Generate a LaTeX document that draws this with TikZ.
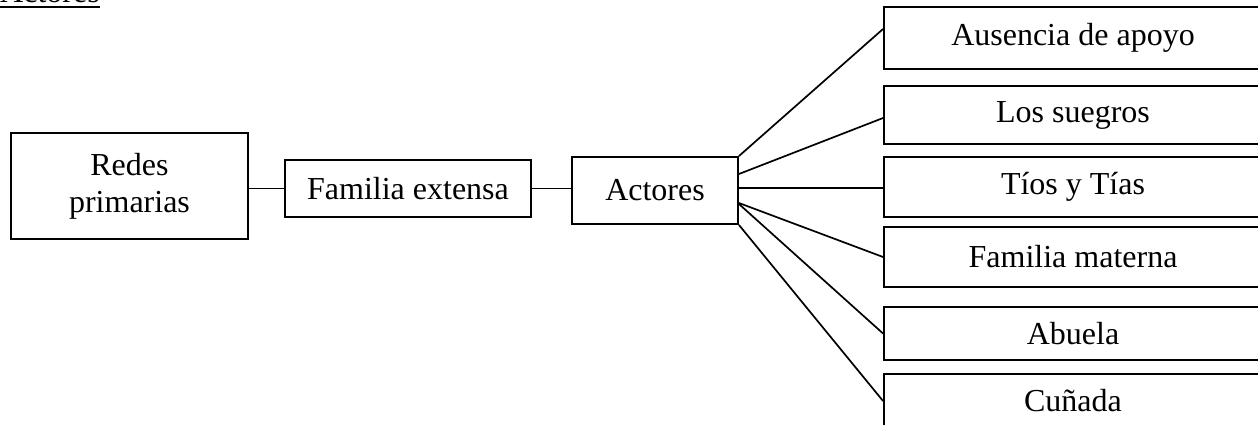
\documentclass[tikz,border=0pt]{standalone}
\usepackage{fontspec}
\setmainfont{Liberation Serif}
\begin{document}
\begin{tikzpicture}[x=1pt,y=-1pt,
  box/.style={draw, line width=1.9pt, rectangle, inner sep=0pt, align=center,
    font=\fontsize{32pt}{37pt}\selectfont},
  link/.style={line width=1.7pt},
  rbox/.style={box, minimum width=378pt}]
  \useasboundingbox (0,0) rectangle (1258,425);
  \clip (0,0) rectangle (1258,425);

  % heading
  \node[anchor=base west, inner sep=0pt, font=\fontsize{32pt}{37pt}\selectfont]
    (hdr) at (0,3) {Actores};
  \draw[line width=2.2pt] ([yshift=-4pt]hdr.base west) -- ([yshift=-4pt]hdr.base east);

  % main chain
  \node[box, minimum width=237pt, minimum height=106pt] (redes) at (129.5,186) {Redes\\primarias};
  \node[box, minimum width=246pt, minimum height=57pt] (fam) at (408,188.5) {Familia extensa};
  \node[box, minimum width=166pt, minimum height=67pt] (act) at (655,190.5) {Actores};

  % actor boxes
  \node[rbox, minimum height=62pt] (r1) at (1073,38) {Ausencia de apoyo};
  \node[rbox, minimum height=58pt] (r2) at (1073,115) {Los suegros};
  \node[rbox, minimum height=60pt] (r3) at (1073,187) {Tíos y Tías};
  \node[rbox, minimum height=60pt] (r4) at (1073,257) {Familia materna};
  \node[rbox, minimum height=53pt] (r5) at (1073,333.5) {Abuela};
  \node[rbox, minimum height=54pt] (r6) at (1073,401) {Cuñada};

  % connectors
  \draw[link] (fam.west) -- (fam.west -| redes.east);
  \draw[link] (fam.east) -- (fam.east -| act.west);
  \draw[link] (act.north east) -- ([yshift=9pt]r1.west);
  \draw[link] ([yshift=16.5pt]act.east) -- ([yshift=-3pt]r2.west);
  \draw[link] ([yshift=2.5pt]act.east) -- ([yshift=-1pt]r3.west);
  \draw[link] ([yshift=-12.5pt]act.east) -- (r4.west);
  \draw[link] ([yshift=-13.5pt]act.east) -- (r5.west);
  \draw[link] (act.south east) -- (r6.west);
\end{tikzpicture}
\end{document}
